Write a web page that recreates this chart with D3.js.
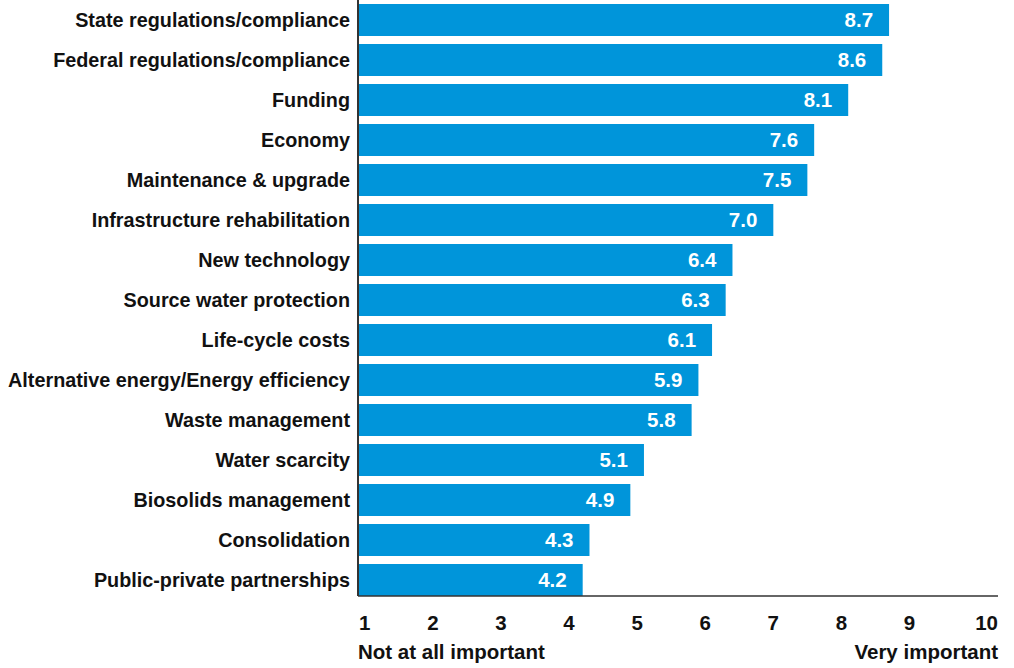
<!DOCTYPE html>
<html><head><meta charset="utf-8">
<script src="https://cdn.jsdelivr.net/npm/d3@7"></script>
<style>
body{margin:0;background:#fff;}
text{font-family:"Liberation Sans",Arial,sans-serif;font-weight:bold;}
</style></head>
<body><svg id="c" width="1014" height="668"></svg>
<script>
const categories = ["State regulations/compliance","Federal regulations/compliance","Funding","Economy","Maintenance & upgrade","Infrastructure rehabilitation","New technology","Source water protection","Life-cycle costs","Alternative energy/Energy efficiency","Waste management","Water scarcity","Biosolids management","Consolidation","Public-private partnerships"];
const values = [8.7,8.6,8.1,7.6,7.5,7.0,6.4,6.3,6.1,5.9,5.8,5.1,4.9,4.3,4.2];
const tickValues = [1,2,3,4,5,6,7,8,9,10];
const axisLabels = ["Not at all important","Very important"];

(function(){
const svg = d3.select("#c");
const mLeft = 358, mRight = 998, mTop = 0, mBottom = 596;
const x = d3.scaleLinear().domain([0.9,10.3]).range([mLeft,mRight]);
const y = d3.scaleBand().domain(categories).range([mTop,600]).paddingInner(0.2).paddingOuter(0.1);
const blue = "#0095da";

svg.selectAll("rect.bar").data(values).join("rect")
  .attr("class","bar")
  .attr("x",mLeft).attr("y",(d,i)=>y(categories[i]))
  .attr("width",d=>x(d)-mLeft).attr("height",y.bandwidth())
  .attr("fill",blue);

svg.selectAll("text.val").data(values).join("text")
  .attr("class","val")
  .attr("x",d=>x(d)-16).attr("y",(d,i)=>y(categories[i])+y.bandwidth()/2)
  .attr("dy","0.36em").attr("text-anchor","end")
  .attr("fill","#fff").attr("font-size",20.5)
  .text(d=>d.toFixed(1));

svg.selectAll("text.cat").data(categories).join("text")
  .attr("class","cat")
  .attr("x",mLeft-8).attr("y",d=>y(d)+y.bandwidth()/2)
  .attr("dy","0.36em").attr("text-anchor","end")
  .attr("fill","#111").attr("font-size",19.8)
  .text(d=>d);

svg.append("line").attr("x1",mLeft).attr("x2",mLeft).attr("y1",0).attr("y2",mBottom)
  .attr("stroke","#333").attr("stroke-width",2);
svg.append("line").attr("x1",mLeft).attr("x2",mRight).attr("y1",mBottom).attr("y2",mBottom)
  .attr("stroke","#333").attr("stroke-width",1.5);

svg.selectAll("text.tick").data(tickValues).join("text")
  .attr("class","tick")
  .attr("x",(d,i)=> i===tickValues.length-1 ? mRight : x(d))
  .attr("text-anchor",(d,i)=> i===tickValues.length-1 ? "end" : "middle")
  .attr("y",630).attr("fill","#111").attr("font-size",20.5)
  .text(d=>d);

svg.append("text").attr("x",mLeft).attr("y",659).attr("font-size",20.5).attr("fill","#111").text(axisLabels[0]);
svg.append("text").attr("x",mRight).attr("y",659).attr("text-anchor","end").attr("font-size",20.5).attr("fill","#111").text(axisLabels[1]);
})();
</script></body></html>
